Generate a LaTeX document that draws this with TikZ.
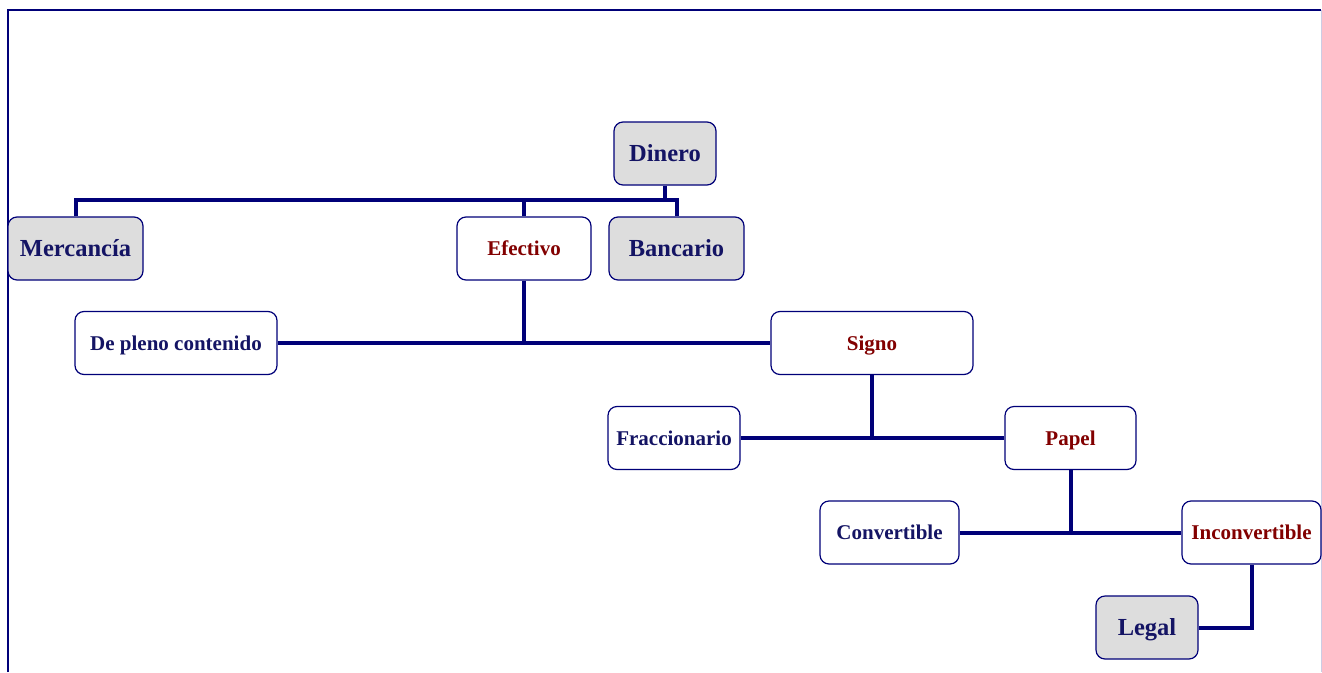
\documentclass[tikz,border=0pt]{standalone}
\usepackage{fontspec}
\setmainfont{Liberation Serif}
\usepackage{tikz}

\definecolor{navyline}{RGB}{0,0,120}
\definecolor{navytext}{RGB}{20,20,100}
\definecolor{redtext}{RGB}{130,0,0}
\definecolor{boxgray}{RGB}{221,221,221}

\tikzset{
  box/.style   = {draw=navyline, line width=1.2pt, rounded corners=9pt,
                  inner sep=0pt, minimum height=63pt},
  graybox/.style = {box, fill=boxgray, text=navytext,
                  text height=21.5pt, text depth=5pt,
                  font=\fontsize{24.5}{28}\selectfont\bfseries},
  bluebox/.style = {box, fill=white, text=navytext,
                  text height=19pt, text depth=5pt,
                  font=\fontsize{21}{25}\selectfont\bfseries},
  redbox/.style  = {box, fill=white, text=redtext,
                  text height=19pt, text depth=5pt,
                  font=\fontsize{21}{25}\selectfont\bfseries},
  link/.style  = {draw=navyline, line width=4pt}
}

\begin{document}
\begin{tikzpicture}[x=1pt,y=-1pt]

\useasboundingbox (0,0) rectangle (1322,672);
\draw[navyline, line width=2pt] (7.5,672) -- (7.5,9.5) -- (1321,9.5);
\draw[navyline!20, line width=1pt] (1321,9.5) -- (1321,672);

% nodes
\node[graybox, minimum width=102pt] (dinero) at (665,153.5) {Dinero};
\node[graybox, minimum width=135pt] (merc)   at (75.5,248.5) {Mercancía};
\node[redbox,  minimum width=134pt] (efec)   at (524,248.5) {Efectivo};
\node[graybox, minimum width=135pt] (banc)   at (676.5,248.5) {Bancario};
\node[bluebox, minimum width=202pt] (pleno)  at (176,343) {De pleno contenido};
\node[redbox,  minimum width=202pt] (signo)  at (872,343) {Signo};
\node[bluebox, minimum width=132pt] (fracc)  at (674,438) {Fraccionario};
\node[redbox,  minimum width=131pt] (papel)  at (1070.5,438) {Papel};
\node[bluebox, minimum width=139pt] (conv)   at (889.5,532.5) {Convertible};
\node[redbox,  minimum width=139pt] (incon)  at (1251.5,532.5) {Inconvertible};
\node[graybox, minimum width=102pt] (legal)  at (1147,627.5) {Legal};

% links
\coordinate (bus) at (665,200);
\draw[link] (dinero.south) -- (bus);
\draw[link] (merc.north) |- (bus) -| (banc.north);
\draw[link] (efec.north) -- (efec.north |- bus);

\draw[link] (pleno.east) -- (signo.west);
\draw[link] (efec.south) -- (efec.south |- pleno.east);

\draw[link] (fracc.east) -- (papel.west);
\draw[link] (signo.south) -- (signo.south |- fracc.east);

\draw[link] (conv.east) -- (incon.west);
\draw[link] (papel.south) -- (papel.south |- conv.east);

\draw[link] (incon.south) |- (legal.east);

\end{tikzpicture}
\end{document}
